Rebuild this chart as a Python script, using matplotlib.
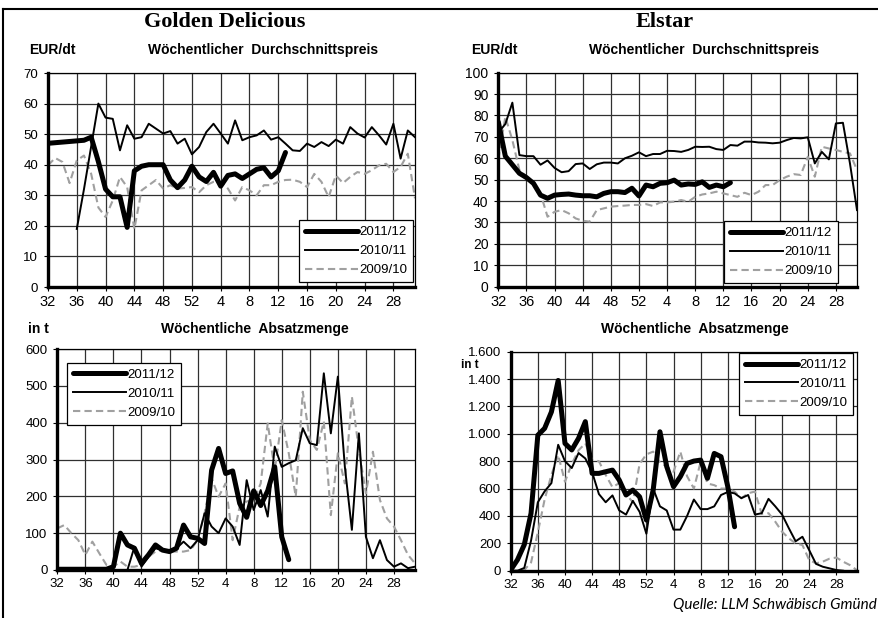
import numpy as np
import matplotlib
matplotlib.use('Agg')
import matplotlib.pyplot as plt
from matplotlib.lines import Line2D
from matplotlib.ticker import FuncFormatter, MultipleLocator

plt.rcParams['font.family'] = 'Liberation Sans'

W, H = 879, 618

weeks = [32, 33, 34, 35, 36, 37, 38, 39, 40, 41, 42, 43, 44, 45, 46, 47, 48, 49, 50, 51, 52,
         1, 2, 3, 4, 5, 6, 7, 8, 9, 10, 11, 12, 13, 14, 15, 16, 17, 18, 19, 20,
         21, 22, 23, 24, 25, 26, 27, 28, 29, 30, 31]
tick_weeks = ['32', '36', '40', '44', '48', '52', '4', '8', '12', '16', '20', '24', '28']
seasons = ['2011/12', '2010/11', '2009/10']

# Golden Delicious, Preis EUR/dt
gd_price_1112 = [47, 47.2, 47.4, 47.6, 47.8, 48, 49, 41, 32, 29.5, 29.5, 19.5, 38, 39.5, 40, 40, 40,
                 35, 32.5, 35, 39.5, 36, 34.5, 37.5, 33, 36.5, 37, 35.5, 37, 38.5, 39, 36, 38, 44]
gd_price_1011 = [None, None, None, None, 19, 32, 46, 60, 55.4, 55, 44.7, 52.9, 48.5, 49, 53.4, 51.8,
                 50.2, 51, 46.9, 48.5, 43.4, 45.8, 50.7, 53.4, 50.2, 46.9, 54.5, 48, 49, 49.6, 51.2,
                 48.2, 49, 46.9, 44.7, 44.5, 46.9, 45.8, 47.4, 46.1, 48.2, 46.9, 52.3, 50.2, 48.9,
                 52.3, 49.6, 46.6, 53.4, 42, 51.2, 49]
gd_price_0910 = [39.8, 42.2, 40.9, 34, 41.4, 43, 37, 26, 22.9, 28.3, 36, 32.7, 19, 31.6, 33.3, 35,
                 32.2, 33.3, 32.2, 32.4, 32.7, 31, 33.3, 34.4, 34.4, 32.2, 28.3, 32.7, 31.6, 30,
                 33.3, 33.3, 34.4, 35, 35.1, 34.4, 32.7, 37, 34.4, 29.4, 36.5, 34, 36, 37.6, 37,
                 38.2, 39.8, 40.3, 37.6, 39.3, 43.6, 29]

# Elstar, Preis EUR/dt
el_price_1112 = [77, 61, 57, 53, 51, 48.3, 42.8, 41.3, 42.8, 43.1, 43.3, 42.8, 42.5, 42.5, 42, 43.6,
                 44.4, 44.4, 44, 46, 42.4, 47.5, 46.7, 48.3, 48.6, 49.8, 47.5, 48, 47.8, 49, 46.4,
                 47.5, 46.7, 48.6]
el_price_1011 = [72, 76, 86, 61.5, 61, 61, 57, 59, 55.5, 53.5, 54, 57.3, 57.6, 55, 57.2, 58, 58,
                 57.6, 60, 61.2, 62.8, 61, 62, 62, 63.5, 63.4, 63, 63.9, 65.4, 65.3, 65.4, 64.3,
                 63.9, 66.2, 65.9, 67.8, 67.8, 67.4, 67.3, 67, 67.3, 68.5, 69.5, 69.3, 69.8, 57.6,
                 63, 59.5, 76.3, 76.6, 57.6, 35.8]
el_price_0910 = [59.5, 79.4, 68.5, 54.5, 51.4, 47.5, 43.6, 32.7, 35, 35.8, 34.3, 31.9, 30.8, 30.4,
                 35.8, 36.6, 37.4, 37.7, 37.9, 38.2, 38.2, 38.6, 37.7, 39.4, 39.4, 39.7, 40.5,
                 39.7, 42, 43.1, 43.6, 44.4, 43.6, 42.8, 42, 43.9, 42.8, 44.4, 47.5, 47.5, 49.8,
                 51.4, 52.6, 52.2, 60.7, 51.4, 65.4, 64.6, 63.9, 63, 62.3, 54.5]

# Golden Delicious, Absatz in t
gd_vol_1112 = [2, 2, 2, 2, 2, 2, 2, 2, 9, 100, 68, 59, 18, 41, 68, 54, 50, 59, 122, 90, 86, 72,
               271, 330, 262, 269, 181, 143, 215, 175, 215, 280, 90, 28]
gd_vol_1011 = [0, 0, 0, 0, 0, 0, 0, 0, 0, 0, 0, 63, 9, 36, 59, 54, 50, 59, 77, 59, 81, 154, 118,
               100, 140, 118, 68, 244, 163, 217, 145, 335, 280, 290, 298, 385, 344, 339, 534, 371,
               525, 280, 109, 371, 90, 32, 81, 27, 9, 18, 5, 9]
gd_vol_0910 = [113, 122, 100, 81, 41, 77, 45, 14, 9, 23, 9, 9, 14, 36, 50, 54, 50, 50, 50, 54, 81,
               154, 249, 199, 235, 81, 172, 186, 190, 235, 398, 271, 407, 317, 199, 484, 353, 326,
               403, 149, 317, 235, 471, 326, 208, 321, 190, 140, 118, 81, 41, 18]

# Elstar, Absatz in t
el_vol_1112 = [5, 80, 190, 420, 990, 1040, 1160, 1390, 930, 882, 967, 1089, 711, 711, 723, 735,
               662, 553, 589, 540, 370, 589, 1015, 760, 614, 687, 784, 801, 808, 675, 857, 833,
               614, 321]
el_vol_1011 = [0, 0, 20, 220, 500, 580, 640, 920, 800, 750, 860, 820, 720, 560, 500, 550, 440,
               410, 510, 430, 270, 600, 470, 440, 300, 300, 400, 520, 450, 450, 470, 553, 575,
               565, 530, 553, 410, 420, 525, 470, 410, 310, 215, 248, 150, 50, 29, 17, 5, 0,
               None, None]
el_vol_0910 = [0, 0, 5, 60, 280, 520, 700, 845, 650, 780, 880, 930, 810, 800, 700, 610, 640, 560,
               500, 780, 850, 870, 790, 760, 723, 870, 690, 600, 796, 637, 625, 600, 600, 578,
               529, 566, 578, 415, 420, 358, 285, 236, 200, 187, 78, 54, 66, 88, 96, 66, 41, 5]


def to_arr(vals):
    a = np.full(len(weeks), np.nan)
    a[:len(vals)] = [np.nan if v is None else v for v in vals]
    return a


def de_thousands(v, pos):
    return f'{int(v):,}'.replace(',', '.')


def panel(rect, series, ymax, ystep, legend_loc, anchor, xfs, yfs, fmt=None):
    ax = fig.add_axes([rect[0] / W, 1 - rect[3] / H, (rect[1] - rect[0]) / W, (rect[3] - rect[2]) / H])
    x = np.arange(len(weeks))
    s1112, s1011, s0910 = [to_arr(s) for s in series]
    l3, = ax.plot(x, s0910, color='#a0a0a0', lw=1.5, dashes=(3.5, 2), zorder=2)
    l2, = ax.plot(x, s1011, color='black', lw=1.4, zorder=3, solid_joinstyle='round')
    l1, = ax.plot(x, s1112, color='black', lw=3.6, zorder=4, solid_joinstyle='round',
                  solid_capstyle='round')
    ax.set_xlim(0, len(weeks) - 1)
    ax.set_ylim(0, ymax)
    ax.set_xticks(x[::4])
    ax.set_xticklabels(tick_weeks, fontsize=xfs)
    ax.yaxis.set_major_locator(MultipleLocator(ystep))
    if fmt:
        ax.yaxis.set_major_formatter(FuncFormatter(fmt))
    ax.tick_params(direction='out', length=3, width=0.8)
    ax.tick_params(axis='x', pad=3)
    ax.tick_params(axis='y', labelsize=yfs, pad=4)
    ax.grid(True, color='#303030', lw=0.9)
    ax.set_axisbelow(True)
    for side in ['top', 'right']:
        ax.spines[side].set_linewidth(0.9)
    for side in ['left', 'bottom']:
        ax.spines[side].set_linewidth(2.4)
    leg = ax.legend([l1, l2, l3], seasons, loc=legend_loc, bbox_to_anchor=anchor,
                    fancybox=False, edgecolor='black', framealpha=1, fontsize=9.5,
                    handlelength=4.0, handletextpad=0.1, labelspacing=0.5,
                    borderpad=0.45, borderaxespad=0)
    leg.get_frame().set_linewidth(0.9)
    return ax


def ftext(x, y, s, **kw):
    fig.text(x / W, 1 - y / H, s, va='center', **kw)


fig = plt.figure(figsize=(8.79, 6.18), dpi=100)

# rect = (left, right, top, bottom) in pixels
panel((48, 415, 73, 287), [gd_price_1112, gd_price_1011, gd_price_0910], 70, 10,
      'lower right', (0.995, 0.023), 10.5, 9.5)
panel((498.3, 857, 72.7, 286.7), [el_price_1112, el_price_1011, el_price_0910], 100, 10,
      'lower right', (0.947, 0.017), 10.5, 10)
panel((57.3, 415, 349, 570), [gd_vol_1112, gd_vol_1011, gd_vol_0910], 600, 100,
      'upper left', (0.027, 0.937), 9.5, 9.5)
panel((510.7, 856.7, 351.7, 570.7), [el_vol_1112, el_vol_1011, el_vol_0910], 1600, 200,
      'upper right', (0.989, 0.994), 9.5, 9.5, fmt=de_thousands)

ftext(225, 22, 'Golden Delicious', ha='center', family='Liberation Serif', weight='bold', fontsize=16)
ftext(665, 22, 'Elstar', ha='center', family='Liberation Serif', weight='bold', fontsize=16)
ftext(52, 50, 'EUR/dt', ha='center', weight='bold', fontsize=10)
ftext(263, 50, 'Wöchentlicher  Durchschnittspreis', ha='center', weight='bold', fontsize=10)
ftext(494, 50, 'EUR/dt', ha='center', weight='bold', fontsize=10)
ftext(704, 50, 'Wöchentlicher  Durchschnittspreis', ha='center', weight='bold', fontsize=10)
ftext(38, 329, 'in t', ha='center', weight='bold', fontsize=10)
ftext(255, 329, 'Wöchentliche  Absatzmenge', ha='center', weight='bold', fontsize=10)
ftext(695, 329, 'Wöchentliche  Absatzmenge', ha='center', weight='bold', fontsize=10)
ftext(470, 365, 'in t', ha='center', weight='bold', fontsize=8.5)
ftext(877, 605, 'Quelle: LLM Schwäbisch Gmünd', ha='right', family='Lato', style='italic', fontsize=11)

# rahmen links und oben
fig.add_artist(Line2D([3.5 / W, 3.5 / W], [0, 1 - 9.3 / H], color='black', lw=1.5))
fig.add_artist(Line2D([3.5 / W, 1], [1 - 9.3 / H, 1 - 9.3 / H], color='black', lw=1.5))

fig.savefig('out.png', dpi=100)
